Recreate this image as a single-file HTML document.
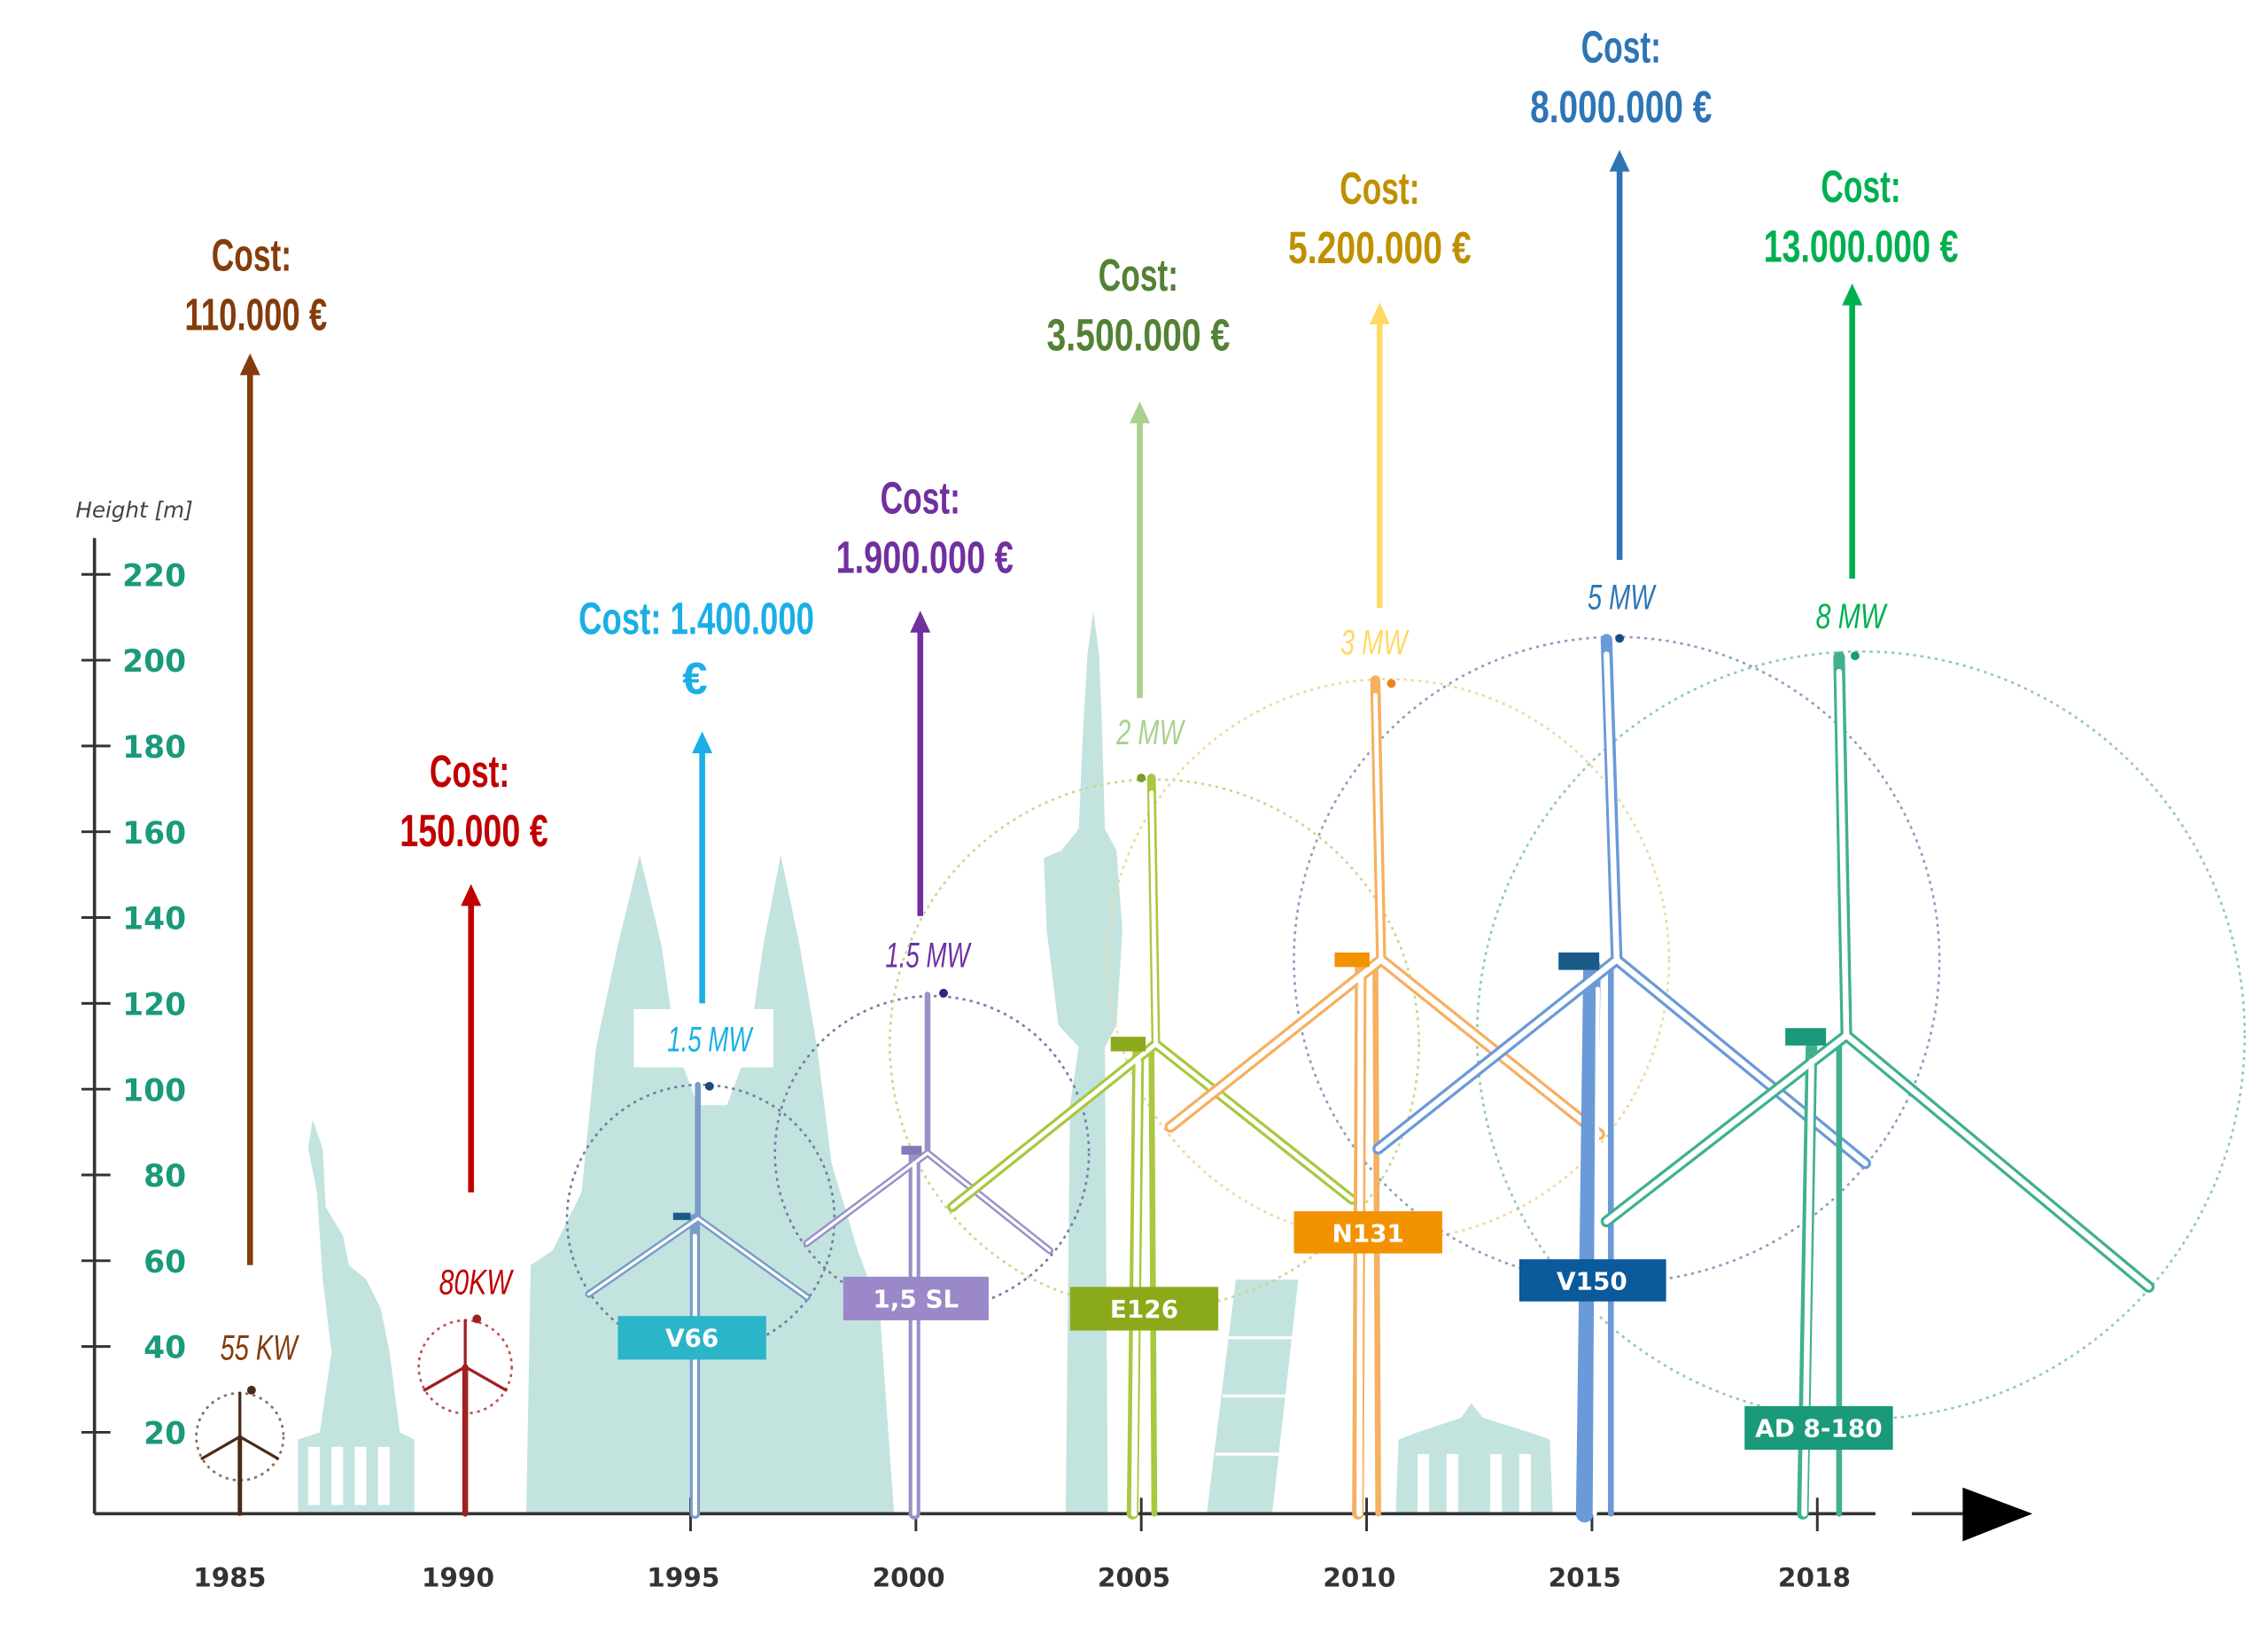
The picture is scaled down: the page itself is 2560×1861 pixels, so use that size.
<!DOCTYPE html>
<html><head><style>
html,body{margin:0;padding:0;background:#fff;}
svg{display:block;}
.c{font-family:"Liberation Sans Narrow","Liberation Sans",sans-serif;font-weight:bold;font-size:31px;text-anchor:middle;}
.mw{font-family:"Liberation Sans Narrow","Liberation Sans",sans-serif;font-style:italic;font-size:24px;text-anchor:middle;}
.yl{font-family:"DejaVu Sans","Liberation Sans",sans-serif;font-weight:bold;font-size:18px;fill:#333;text-anchor:middle;}
.tk{font-family:"DejaVu Sans","Liberation Sans",sans-serif;font-weight:bold;font-size:21px;fill:#1a9a7a;text-anchor:end;}
.lb{font-family:"DejaVu Sans","Liberation Sans",sans-serif;font-weight:bold;font-size:17px;fill:#fff;text-anchor:middle;}
</style></head><body>
<svg width="2560" height="1861" viewBox="0 0 1560 1134" xmlns="http://www.w3.org/2000/svg">
<rect width="1560" height="1134" fill="#fff"/>
<g fill="#c3e3df">
<path d="M205,1041 L205,990 L220,985 L228,930 L222,880 L218,820 L212,790 L215,770 L222,790 L224,830 L236,850 L240,870 L252,880 L262,900 L268,930 L275,985 L285,990 L285,1041 Z"/>
<path d="M362,1041 L365,870 L380,860 L400,820 L410,720 L425,650 L440,588 L455,650 L465,720 L480,760 L500,760 L515,720 L525,650 L537,588 L550,650 L562,720 L572,800 L590,860 L605,900 L615,1041 Z"/>
<path d="M733,1041 L736,760 L742,720 L728,705 L720,640 L718,590 L730,585 L742,570 L745,500 L748,450 L752,420 L756,450 L758,500 L760,570 L768,585 L772,640 L768,705 L760,720 L762,1041 Z"/>
<path d="M830,1041 L850,880 L893,880 L875,1041 Z"/>
<path d="M960,1041 L962,990 L975,985 L1005,975 L1012,965 L1020,975 L1052,985 L1066,990 L1068,1041 Z"/>
</g>
<g fill="#fff">
<rect x="212" y="995" width="8" height="40"/><rect x="228" y="995" width="8" height="40"/><rect x="244" y="995" width="8" height="40"/><rect x="260" y="995" width="8" height="40"/>
<rect x="975" y="1000" width="8" height="41"/><rect x="995" y="1000" width="8" height="41"/><rect x="1025" y="1000" width="8" height="41"/><rect x="1045" y="1000" width="8" height="41"/>
</g>
<g stroke="#fff" stroke-width="2"><line x1="845" y1="920" x2="890" y2="920"/><line x1="841" y1="960" x2="885" y2="960"/><line x1="836" y1="1000" x2="880" y2="1000"/></g>

<g stroke="#333" stroke-width="2.2">
<line x1="65" y1="370" x2="65" y2="1041"/>
<line x1="65" y1="1041" x2="1290" y2="1041"/>
<line x1="1315" y1="1041" x2="1350" y2="1041"/>
</g>
<polygon points="1350,1023 1398,1041 1350,1060" fill="#000"/>
<g stroke="#333" stroke-width="1.8">
<line x1="56" y1="395" x2="76" y2="395"/><line x1="56" y1="454" x2="76" y2="454"/><line x1="56" y1="513" x2="76" y2="513"/><line x1="56" y1="572" x2="76" y2="572"/><line x1="56" y1="631" x2="76" y2="631"/><line x1="56" y1="690" x2="76" y2="690"/><line x1="56" y1="749" x2="76" y2="749"/><line x1="56" y1="808" x2="76" y2="808"/><line x1="56" y1="867" x2="76" y2="867"/><line x1="56" y1="926" x2="76" y2="926"/><line x1="56" y1="985" x2="76" y2="985"/>
<line x1="475" y1="1030" x2="475" y2="1053"/><line x1="630" y1="1030" x2="630" y2="1053"/><line x1="785" y1="1030" x2="785" y2="1053"/><line x1="940" y1="1030" x2="940" y2="1053"/><line x1="1095" y1="1030" x2="1095" y2="1053"/><line x1="1250" y1="1030" x2="1250" y2="1053"/>
</g>
<text x="52" y="356" font-family="DejaVu Sans,sans-serif" font-style="italic" font-size="15" fill="#444">Height [m]</text>
<text class="tk" x="128" y="403">220</text><text class="tk" x="128" y="462">200</text><text class="tk" x="128" y="521">180</text><text class="tk" x="128" y="580">160</text><text class="tk" x="128" y="639">140</text><text class="tk" x="128" y="698">120</text><text class="tk" x="128" y="757">100</text><text class="tk" x="128" y="816">80</text><text class="tk" x="128" y="875">60</text><text class="tk" x="128" y="934">40</text><text class="tk" x="128" y="993">20</text>
<text class="yl" x="158" y="1091">1985</text><text class="yl" x="315" y="1091">1990</text><text class="yl" x="470" y="1091">1995</text><text class="yl" x="625" y="1091">2000</text><text class="yl" x="780" y="1091">2005</text><text class="yl" x="935" y="1091">2010</text><text class="yl" x="1090" y="1091">2015</text><text class="yl" x="1248" y="1091">2018</text>

<g fill="none" stroke-width="1.6" stroke-dasharray="2,3">
<circle cx="165" cy="988" r="30" stroke="#8a6a5a"/>
<circle cx="320" cy="940" r="32" stroke="#c05050"/>
<circle cx="482" cy="838" r="92" stroke="#6a7fa0"/>
<circle cx="641" cy="793" r="108" stroke="#7a78a8"/>
<circle cx="794" cy="718" r="182" stroke="#c8d890"/>
<circle cx="955" cy="660" r="193" stroke="#eed8a0"/>
<circle cx="1112" cy="660" r="222" stroke="#8aa0c0"/>
<circle cx="1280" cy="712" r="264" stroke="#90c8b8"/>
</g>

<g stroke-linecap="round">
<g stroke="#4a2a1a"><line x1="165" y1="988" x2="165" y2="1041" stroke-width="3"/><line x1="165" y1="988" x2="165" y2="958" stroke-width="2"/><line x1="165" y1="988" x2="139" y2="1003" stroke-width="2"/><line x1="165" y1="988" x2="191" y2="1003" stroke-width="2"/></g>
<g stroke="#a02020"><line x1="320" y1="940" x2="320" y2="1041" stroke-width="4"/><line x1="320" y1="940" x2="320" y2="908" stroke-width="2"/><line x1="320" y1="940" x2="292" y2="956" stroke-width="2"/><line x1="320" y1="940" x2="348" y2="956" stroke-width="2"/></g>
<g stroke="#7a9cc8"><line x1="478" y1="838" x2="478" y2="1041" stroke-width="7"/><line x1="480" y1="838" x2="480" y2="746" stroke-width="4"/><line x1="480" y1="838" x2="405" y2="890" stroke-width="5"/><line x1="480" y1="838" x2="555" y2="892" stroke-width="5"/></g>
<g stroke="#fff"><line x1="478" y1="850" x2="478" y2="1041" stroke-width="3"/><line x1="480" y1="838" x2="405" y2="890" stroke-width="2"/><line x1="480" y1="838" x2="555" y2="892" stroke-width="2"/></g>
<rect x="463" y="834" width="12" height="5" fill="#1a5a8a"/>
<g stroke="#9a90c8"><line x1="629" y1="793" x2="629" y2="1041" stroke-width="8"/><line x1="638" y1="793" x2="638" y2="684" stroke-width="4"/><line x1="638" y1="793" x2="555" y2="855" stroke-width="5"/><line x1="638" y1="793" x2="722" y2="860" stroke-width="5"/></g>
<g stroke="#fff"><line x1="629" y1="800" x2="629" y2="1041" stroke-width="3"/><line x1="638" y1="793" x2="555" y2="855" stroke-width="2"/><line x1="638" y1="793" x2="722" y2="860" stroke-width="2"/></g>
<rect x="620" y="788" width="14" height="6" fill="#8878b8"/>
<g stroke="#a8c840"><line x1="783" y1="720" x2="779" y2="1041" stroke-width="8"/><line x1="792" y1="720" x2="794" y2="1041" stroke-width="4"/><line x1="795" y1="718" x2="792" y2="535" stroke-width="6"/><line x1="795" y1="718" x2="655" y2="830" stroke-width="7"/><line x1="795" y1="718" x2="930" y2="825" stroke-width="7"/></g>
<g stroke="#fff"><line x1="783" y1="730" x2="780" y2="1041" stroke-width="4"/><line x1="795" y1="718" x2="792" y2="545" stroke-width="3"/><line x1="795" y1="718" x2="655" y2="830" stroke-width="3"/><line x1="795" y1="718" x2="930" y2="825" stroke-width="3"/></g>
<rect x="764" y="713" width="24" height="10" fill="#8aaa1a"/>
<g stroke="#f5b060"><line x1="936" y1="662" x2="934" y2="1041" stroke-width="8"/><line x1="946" y1="662" x2="948" y2="1041" stroke-width="4"/><line x1="950" y1="660" x2="946" y2="468" stroke-width="7"/><line x1="950" y1="660" x2="805" y2="775" stroke-width="8"/><line x1="950" y1="660" x2="1100" y2="780" stroke-width="8"/></g>
<g stroke="#fff"><line x1="936" y1="672" x2="935" y2="1041" stroke-width="4"/><line x1="950" y1="660" x2="946" y2="478" stroke-width="3"/><line x1="950" y1="660" x2="805" y2="775" stroke-width="4"/><line x1="950" y1="660" x2="1100" y2="780" stroke-width="4"/></g>
<rect x="918" y="655" width="24" height="10" fill="#f39200"/>
<g stroke="#6a9ad8"><line x1="1095" y1="665" x2="1090" y2="1041" stroke-width="12"/><line x1="1108" y1="665" x2="1108" y2="1041" stroke-width="4"/><line x1="1112" y1="660" x2="1105" y2="440" stroke-width="8"/><line x1="1112" y1="660" x2="948" y2="790" stroke-width="8"/><line x1="1112" y1="660" x2="1283" y2="800" stroke-width="8"/></g>
<g stroke="#fff"><line x1="1099" y1="680" x2="1097" y2="1041" stroke-width="3"/><line x1="1112" y1="660" x2="1105" y2="450" stroke-width="4"/><line x1="1112" y1="660" x2="948" y2="790" stroke-width="4"/><line x1="1112" y1="660" x2="1283" y2="800" stroke-width="4"/></g>
<rect x="1072" y="655" width="28" height="12" fill="#1a5a8a"/>
<g stroke="#40b090"><line x1="1246" y1="720" x2="1240" y2="1041" stroke-width="8"/><line x1="1265" y1="720" x2="1265" y2="1041" stroke-width="4"/><line x1="1270" y1="712" x2="1265" y2="452" stroke-width="8"/><line x1="1270" y1="712" x2="1105" y2="840" stroke-width="8"/><line x1="1270" y1="712" x2="1478" y2="885" stroke-width="8"/></g>
<g stroke="#fff"><line x1="1246" y1="730" x2="1241" y2="1041" stroke-width="4"/><line x1="1270" y1="712" x2="1265" y2="462" stroke-width="4"/><line x1="1270" y1="712" x2="1105" y2="840" stroke-width="4"/><line x1="1270" y1="712" x2="1478" y2="885" stroke-width="4"/></g>
<rect x="1228" y="707" width="28" height="12" fill="#1a9a7a"/>
</g>
<g><circle cx="173" cy="956" r="3" fill="#4a2a1a"/><circle cx="328" cy="907" r="3" fill="#a02020"/><circle cx="488" cy="747" r="3" fill="#1a4a7a"/><circle cx="649" cy="683" r="3" fill="#2a2a7a"/><circle cx="785" cy="535" r="3" fill="#7a9a2a"/><circle cx="957" cy="470" r="3" fill="#f08020"/><circle cx="1114" cy="439" r="3" fill="#1a4a8a"/><circle cx="1276" cy="451" r="3" fill="#1a9a7a"/></g>

<rect x="425" y="905" width="102" height="30" fill="#2bb5c8"/><text class="lb" x="476" y="926">V66</text>
<rect x="580" y="878" width="100" height="30" fill="#9b88c8"/><text class="lb" x="630" y="899">1,5 SL</text>
<rect x="736" y="885" width="102" height="30" fill="#8aaa1a"/><text class="lb" x="787" y="906">E126</text>
<rect x="890" y="833" width="102" height="29" fill="#f39200"/><text class="lb" x="941" y="854">N131</text>
<rect x="1045" y="866" width="101" height="29" fill="#0a5a9c"/><text class="lb" x="1095" y="887">V150</text>
<rect x="1200" y="967" width="102" height="30" fill="#1a9a7a"/><text class="lb" x="1251" y="988">AD 8-180</text>

<g stroke-width="4">
<line x1="172" y1="870" x2="172" y2="255" stroke="#843c0c"/>
<line x1="324" y1="820" x2="324" y2="620" stroke="#c00000"/>
<line x1="483" y1="690" x2="483" y2="515" stroke="#1aafe6"/>
<line x1="633" y1="630" x2="633" y2="432" stroke="#7030a0"/>
<line x1="784" y1="480" x2="784" y2="288" stroke="#a9d18e"/>
<line x1="949" y1="418" x2="949" y2="220" stroke="#ffd966"/>
<line x1="1114" y1="385" x2="1114" y2="115" stroke="#2e75b6"/>
<line x1="1274" y1="398" x2="1274" y2="207" stroke="#00b050"/>
</g>
<polygon points="165,258 172,243 179,258" fill="#843c0c"/>
<polygon points="317,623 324,608 331,623" fill="#c00000"/>
<polygon points="476,518 483,503 490,518" fill="#1aafe6"/>
<polygon points="626,435 633,420 640,435" fill="#7030a0"/>
<polygon points="777,291 784,276 791,291" fill="#a9d18e"/>
<polygon points="942,223 949,208 956,223" fill="#ffd966"/>
<polygon points="1107,118 1114,103 1121,118" fill="#2e75b6"/>
<polygon points="1267,210 1274,195 1281,210" fill="#00b050"/>

<g lengthAdjust="spacingAndGlyphs">
<text class="c" x="173" y="186" fill="#843c0c" textLength="55" lengthAdjust="spacingAndGlyphs">Cost:</text><text class="c" x="176" y="227" fill="#843c0c" textLength="98" lengthAdjust="spacingAndGlyphs">110.000 €</text>
<text class="c" x="323" y="541" fill="#c00000" textLength="55" lengthAdjust="spacingAndGlyphs">Cost:</text><text class="c" x="326" y="582" fill="#c00000" textLength="102" lengthAdjust="spacingAndGlyphs">150.000 €</text>
<text class="c" x="479" y="436" fill="#1aafe6" textLength="162" lengthAdjust="spacingAndGlyphs">Cost: 1.400.000</text><text class="c" x="478" y="477" fill="#1aafe6">€</text>
<text class="c" x="633" y="353" fill="#7030a0" textLength="55" lengthAdjust="spacingAndGlyphs">Cost:</text><text class="c" x="636" y="394" fill="#7030a0" textLength="122" lengthAdjust="spacingAndGlyphs">1.900.000 €</text>
<text class="c" x="783" y="200" fill="#538135" textLength="55" lengthAdjust="spacingAndGlyphs">Cost:</text><text class="c" x="783" y="241" fill="#538135" textLength="126" lengthAdjust="spacingAndGlyphs">3.500.000 €</text>
<text class="c" x="949" y="140" fill="#bf9000" textLength="55" lengthAdjust="spacingAndGlyphs">Cost:</text><text class="c" x="949" y="181" fill="#bf9000" textLength="126" lengthAdjust="spacingAndGlyphs">5.200.000 €</text>
<text class="c" x="1115" y="43" fill="#2e75b6" textLength="55" lengthAdjust="spacingAndGlyphs">Cost:</text><text class="c" x="1115" y="84" fill="#2e75b6" textLength="125" lengthAdjust="spacingAndGlyphs">8.000.000 €</text>
<text class="c" x="1280" y="139" fill="#00b050" textLength="55" lengthAdjust="spacingAndGlyphs">Cost:</text><text class="c" x="1280" y="180" fill="#00b050" textLength="134" lengthAdjust="spacingAndGlyphs">13.000.000 €</text>
</g>

<rect x="140" y="910" width="80" height="30" fill="#fff"/>
<text class="mw" x="178" y="935" fill="#843c0c" textLength="53" lengthAdjust="spacingAndGlyphs">55 KW</text>
<text class="mw" x="327" y="890" fill="#c00000" textLength="50" lengthAdjust="spacingAndGlyphs">80KW</text>
<rect x="436" y="694" width="96" height="40" fill="#fff"/>
<text class="mw" x="488" y="723" fill="#1aafe6" textLength="58" lengthAdjust="spacingAndGlyphs">1.5 MW</text>
<text class="mw" x="638" y="665" fill="#7030a0" textLength="58" lengthAdjust="spacingAndGlyphs">1.5 MW</text>
<text class="mw" x="791" y="512" fill="#a9d18e" textLength="46" lengthAdjust="spacingAndGlyphs">2 MW</text>
<text class="mw" x="945" y="450" fill="#ffd966" textLength="46" lengthAdjust="spacingAndGlyphs">3 MW</text>
<text class="mw" x="1115" y="419" fill="#2e75b6" textLength="46" lengthAdjust="spacingAndGlyphs">5 MW</text>
<text class="mw" x="1273" y="432" fill="#00b050" textLength="48" lengthAdjust="spacingAndGlyphs">8 MW</text>
</svg>
</body></html>
